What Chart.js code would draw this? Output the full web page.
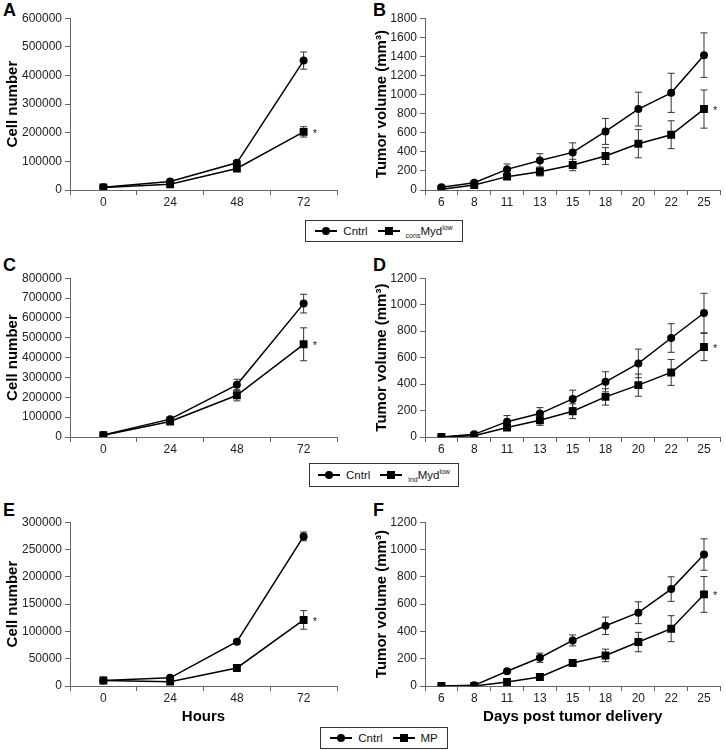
<!DOCTYPE html>
<html>
<head>
<meta charset="utf-8">
<script src="https://cdn.jsdelivr.net/npm/chart.js@4/dist/chart.umd.min.js"></script>
<style>
  html, body { margin: 0; padding: 0; background: #fff; }
  body { width: 726px; height: 750px; position: relative; overflow: hidden; font-family: Arial, "Liberation Sans", sans-serif; }
  .panel { position: absolute; }
  .panel canvas { display: block; }
  .letter { position: absolute; font-weight: bold; font-size: 18px; color: #000; line-height: 18px; }
  .legend { position: absolute; border: 1px solid #333; box-sizing: border-box; display: flex; align-items: center; justify-content: center; font-size: 11.5px; color: #111; background: #fff; }
  .item { display: flex; align-items: center; margin: 0 5px; color: #111; }
  .sym { position: relative; width: 22px; height: 10px; margin-right: 6px; }
  .sym .ln { position: absolute; left: 0; right: 0; top: 4px; height: 1.5px; background: #000; }
  .sym .dot { position: absolute; left: 7px; top: 1px; width: 8px; height: 8px; border-radius: 50%; background: #000; }
  .sym .sq { position: absolute; left: 7px; top: 1px; width: 8px; height: 8px; background: #000; }
  .lo, .hi { font-size: 7px; color: #111; display: inline-block; }
  .lo { transform: translateY(4px); }
  .hi { transform: translateY(-4px); }
</style>
</head>
<body>
<div class="letter" style="left:3px;top:1px;">A</div>
<div class="letter" style="left:373px;top:1px;">B</div>
<div class="letter" style="left:3px;top:256px;">C</div>
<div class="letter" style="left:373px;top:256px;">D</div>
<div class="letter" style="left:3px;top:501px;">E</div>
<div class="letter" style="left:373px;top:501px;">F</div>

<div class="panel" style="left:0;top:8px;width:345px;height:210px;"><canvas id="cA"></canvas></div>
<div class="panel" style="left:369px;top:8px;width:357px;height:210px;"><canvas id="cB"></canvas></div>
<div class="panel" style="left:0;top:268px;width:345px;height:197px;"><canvas id="cC"></canvas></div>
<div class="panel" style="left:369px;top:268px;width:357px;height:197px;"><canvas id="cD"></canvas></div>
<div class="panel" style="left:0;top:512px;width:345px;height:218px;"><canvas id="cE"></canvas></div>
<div class="panel" style="left:369px;top:512px;width:357px;height:218px;"><canvas id="cF"></canvas></div>

<div class="legend" style="left:305px;top:220px;width:158px;height:22px;">
  <span class="item"><span class="sym"><span class="ln"></span><span class="dot"></span></span>Cntrl</span>
  <span class="item"><span class="sym"><span class="ln"></span><span class="sq"></span></span><span class="lo">cons</span>Myd<span class="hi">low</span></span>
</div>
<div class="legend" style="left:309px;top:463px;width:150px;height:24px;">
  <span class="item"><span class="sym"><span class="ln"></span><span class="dot"></span></span>Cntrl</span>
  <span class="item"><span class="sym"><span class="ln"></span><span class="sq"></span></span><span class="lo">ind</span>Myd<span class="hi">low</span></span>
</div>
<div class="legend" style="left:320px;top:727px;width:128px;height:22px;">
  <span class="item"><span class="sym"><span class="ln"></span><span class="dot"></span></span>Cntrl</span>
  <span class="item"><span class="sym"><span class="ln"></span><span class="sq"></span></span>MP</span>
</div>

<script>
// ---------- DATA ----------
const hourLabels = ['0', '24', '48', '72'];
const dayLabels = ['6', '8', '11', '13', '15', '18', '20', '22', '25'];

// Panel A (cell number, cons Myd low)
const aCntrl    = [10000, 30000, 95000, 452000];
const aCntrlErr = [2000, 4000, 8000, 30000];
const aMyd      = [9000, 20000, 75000, 203000];
const aMydErr   = [2000, 3000, 7000, 18000];

// Panel B (tumor volume, cons Myd low)
const bCntrl    = [28, 77, 216, 310, 394, 614, 848, 1018, 1413];
const bCntrlErr = [10, 15, 56, 70, 100, 136, 177, 205, 233];
const bMyd      = [7, 52, 140, 192, 262, 356, 485, 579, 848];
const bMydErr   = [5, 12, 20, 45, 60, 88, 148, 146, 200];

// Panel C (cell number, ind Myd low)
const cCntrl    = [10000, 90000, 263000, 672000];
const cCntrlErr = [2000, 10000, 28000, 47000];
const cMyd      = [9000, 78000, 210000, 467000];
const cMydErr   = [2000, 8000, 28000, 83000];

// Panel D (tumor volume, ind Myd low)
const dCntrl    = [0, 20, 116, 177, 288, 417, 556, 748, 937];
const dCntrlErr = [2, 8, 46, 45, 66, 76, 108, 108, 149];
const dMyd      = [0, 10, 71, 126, 195, 303, 392, 488, 680];
const dMydErr   = [2, 5, 20, 38, 56, 62, 84, 98, 103];

// Panel E (cell number, MP)
const eCntrl    = [10000, 15000, 81000, 274000];
const eCntrlErr = [1000, 2000, 3000, 8000];
const eMP       = [10000, 8000, 33000, 121000];
const eMPErr    = [1000, 1000, 3000, 17000];

// Panel F (tumor volume, MP)
const fCntrl    = [0, 5, 108, 207, 334, 441, 537, 710, 963];
const fCntrlErr = [1, 3, 10, 34, 40, 64, 80, 90, 115];
const fMP       = [0, 0, 29, 66, 168, 224, 322, 420, 671];
const fMPErr    = [1, 1, 5, 10, 20, 46, 71, 95, 131];

// ---------- CHART SETUP ----------
Chart.defaults.font.family = 'Arial, "Liberation Sans", sans-serif';
Chart.defaults.color = '#222';

const errorBars = {
  id: 'errorBars',
  beforeDatasetsDraw(chart) {
    const ctx = chart.ctx;
    const ys = chart.scales.y;
    ctx.save();
    ctx.strokeStyle = '#333';
    ctx.lineWidth = 1;
    chart.data.datasets.forEach((ds, i) => {
      const meta = chart.getDatasetMeta(i);
      meta.data.forEach((pt, j) => {
        const v = ds.data[j], e = ds.errors[j];
        if (!e) return;
        const x = pt.x;
        const y1 = ys.getPixelForValue(v + e);
        const y2 = ys.getPixelForValue(Math.max(0, v - e));
        ctx.beginPath();
        ctx.moveTo(x, y1); ctx.lineTo(x, y2);
        ctx.moveTo(x - 3.5, y1); ctx.lineTo(x + 3.5, y1);
        ctx.moveTo(x - 3.5, y2); ctx.lineTo(x + 3.5, y2);
        ctx.stroke();
      });
    });
    ctx.restore();
  }
};

const starMark = {
  id: 'starMark',
  afterDatasetsDraw(chart) {
    const meta = chart.getDatasetMeta(1);
    const pt = meta.data[meta.data.length - 1];
    const ctx = chart.ctx;
    ctx.save();
    ctx.fillStyle = '#222';
    ctx.font = '11px Arial, "Liberation Sans", sans-serif';
    ctx.textBaseline = 'middle';
    ctx.fillText('*', pt.x + 9, pt.y + 2);
    ctx.restore();
  }
};

function makeChart(id, labels, s1, e1, s2, e2, yMax, yStep, yTitle, yTitleSize, yWidth, padRight, xTitle) {
  const xHeight = xTitle ? 44 : 28;
  return new Chart(document.getElementById(id), {
    type: 'line',
    data: {
      labels: labels,
      datasets: [
        { label: 'Cntrl', data: s1, errors: e1, borderColor: '#000', backgroundColor: '#000',
          borderWidth: 1.5, pointStyle: 'circle', pointRadius: 4, pointBorderWidth: 0, tension: 0 },
        { label: 'Treat', data: s2, errors: e2, borderColor: '#000', backgroundColor: '#000',
          borderWidth: 1.5, pointStyle: 'rect', pointRadius: 5.6, pointBorderWidth: 0, tension: 0 }
      ]
    },
    options: {
      responsive: true,
      maintainAspectRatio: false,
      animation: false,
      layout: { padding: { top: 10, right: padRight, left: 0, bottom: 0 } },
      plugins: { legend: { display: false }, tooltip: { enabled: false } },
      scales: {
        x: {
          type: 'category',
          offset: true,
          grid: { offset: true, drawOnChartArea: false, drawTicks: true, tickLength: 5, color: '#666' },
          border: { display: true, color: '#666', width: 1 },
          ticks: { font: { size: 12 }, padding: 0, color: '#222', maxRotation: 0 },
          title: xTitle ? { display: true, text: xTitle, font: { size: 15, weight: 'bold' }, color: '#000', padding: { top: 2, bottom: 4 } } : { display: false },
          afterFit: s => { s.height = xHeight; }
        },
        y: {
          min: 0, max: yMax,
          grid: { drawOnChartArea: false, drawTicks: true, tickLength: 5, color: '#666' },
          border: { display: true, color: '#666', width: 1 },
          ticks: { stepSize: yStep, font: { size: 12 }, padding: 3, color: '#222', callback: v => String(v) },
          title: { display: true, text: yTitle, font: { size: yTitleSize, weight: 'bold' }, color: '#000', padding: 4 },
          afterFit: s => { s.width = yWidth; }
        }
      }
    },
    plugins: [errorBars, starMark]
  });
}

const tumorTitle = 'Tumor volume (mm\u00B3)';
makeChart('cA', hourLabels, aCntrl, aCntrlErr, aMyd, aMydErr, 600000, 100000, 'Cell number', 15, 70, 8, null);
makeChart('cB', dayLabels, bCntrl, bCntrlErr, bMyd, bMydErr, 1800, 200, tumorTitle, 15, 56, 5, null);
makeChart('cC', hourLabels, cCntrl, cCntrlErr, cMyd, cMydErr, 800000, 100000, 'Cell number', 15, 70, 8, null);
makeChart('cD', dayLabels, dCntrl, dCntrlErr, dMyd, dMydErr, 1200, 200, tumorTitle, 15, 56, 5, null);
makeChart('cE', hourLabels, eCntrl, eCntrlErr, eMP, eMPErr, 300000, 50000, 'Cell number', 15, 70, 8, 'Hours');
makeChart('cF', dayLabels, fCntrl, fCntrlErr, fMP, fMPErr, 1200, 200, tumorTitle, 15, 56, 5, 'Days post tumor delivery');
</script>
</body>
</html>
